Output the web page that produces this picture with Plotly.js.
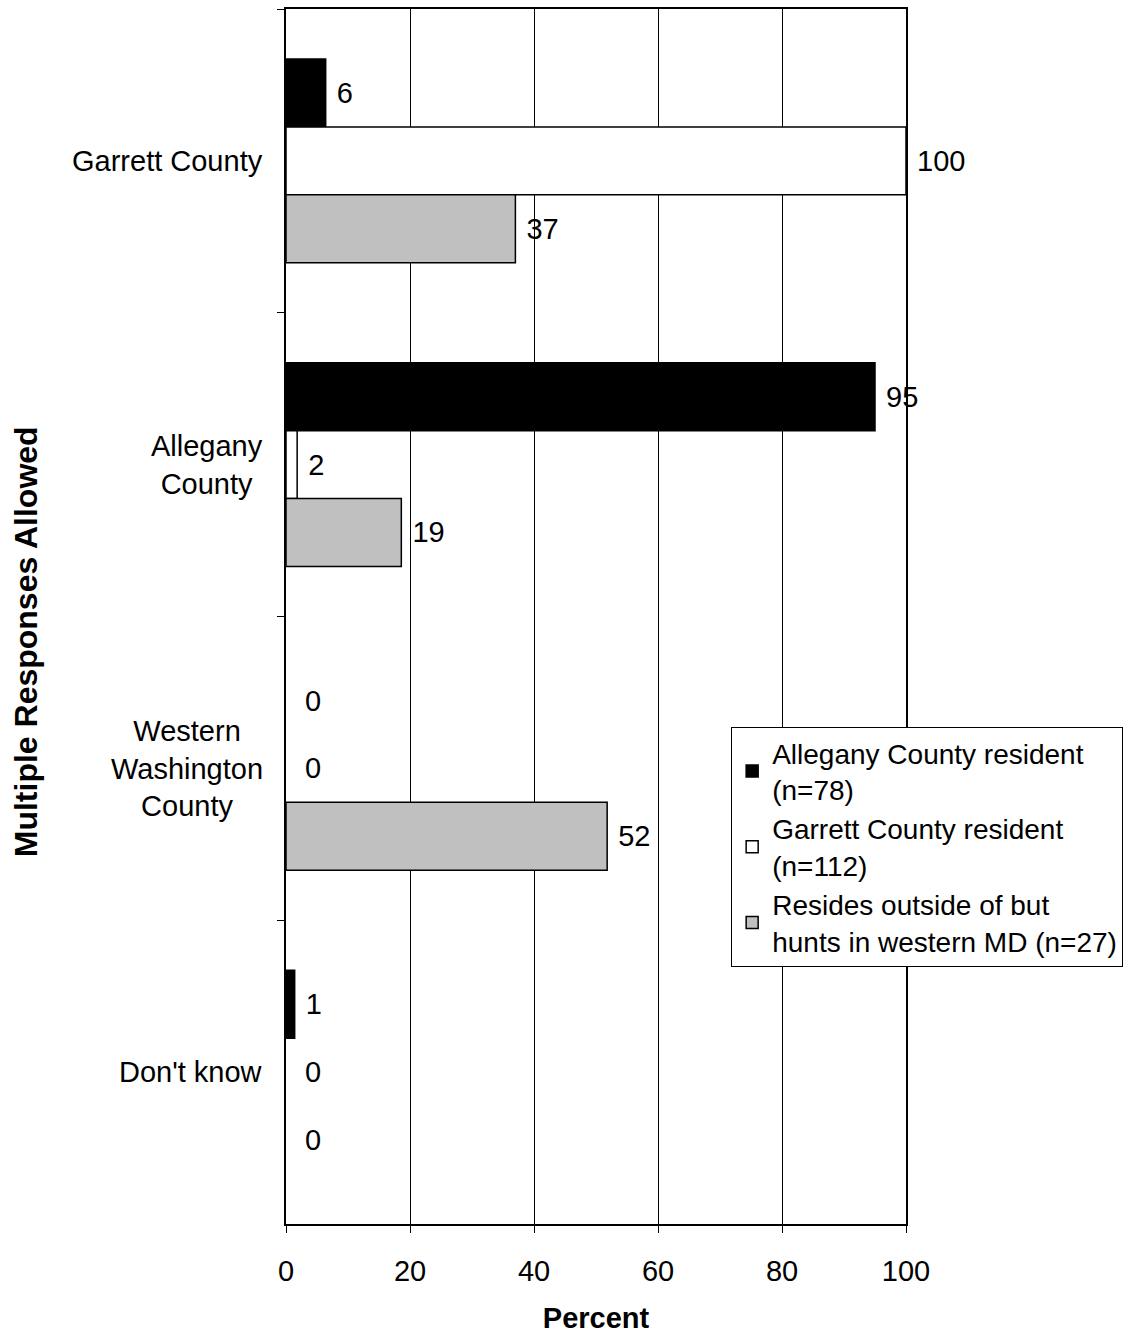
<!DOCTYPE html>
<html>
<head>
<meta charset="utf-8">
<script src="https://cdn.plot.ly/plotly-3.0.1.min.js"></script>
<style>html,body{margin:0;padding:0;background:#fff;}</style>
</head>
<body>
<div id="chart" style="width:1141px;height:1334px;"></div>
<script>
// Categories (top to bottom)
const categories = ["Garrett County", "Allegany County", "Western Washington County", "Don't know"];
const categoryLabels = ["Garrett County", "Allegany<br>County", "Western<br>Washington<br>County", "Don't know"];

// Series names
const seriesNames = [
  "Allegany County resident<br>(n=78)",
  "Garrett County resident<br>(n=112)",
  "Resides outside of but<br>hunts in western MD (n=27)"
];

// Series values (percent)
const alleganyResident = [6.4, 95, 0, 1.4];
const garrettResident = [100, 1.8, 0, 0];
const outsideResident = [37, 18.6, 51.8, 0];

const xTicks = [0, 20, 40, 60, 80, 100];

const FONT = "Arial, 'Liberation Sans', sans-serif";
const colors = ["#000000", "#ffffff", "#c0c0c0"];
const seriesValues = [alleganyResident, garrettResident, outsideResident];

const traces = seriesValues.map((vals, i) => ({
  type: "bar",
  orientation: "h",
  name: seriesNames[i],
  y: categories,
  x: vals,
  marker: {
    color: colors[i],
    line: { color: "#000", width: vals.map(v => v === 0 ? 0 : 1.5) }
  },
  texttemplate: vals.map(v => v === 0 ? "\u00a0\u00a0%{x:.0f}" : "\u00a0%{x:.0f}"),
  textposition: "outside",
  textfont: { family: FONT, size: 29, color: "#000" },
  cliponaxis: false,
  hoverinfo: "x+y"
}));

const annotations = categories.map((c, i) => ({
  xref: "paper", yref: "y",
  x: 0, y: c,
  xanchor: "right", yanchor: "middle",
  xshift: -21,
  align: "center",
  showarrow: false,
  text: categoryLabels[i],
  font: { family: FONT, size: 29, color: "#000" }
}));
annotations.push({
  xref: "paper", yref: "paper",
  x: -0.419, y: 0.479,
  xanchor: "center", yanchor: "middle",
  textangle: -90,
  showarrow: false,
  text: "<b>Multiple Responses Allowed</b>",
  font: { family: FONT, size: 32, color: "#000" }
});

const layout = {
  width: 1141, height: 1334,
  margin: { l: 286, r: 235, t: 9, b: 110 },
  paper_bgcolor: "#fff", plot_bgcolor: "#fff",
  font: { family: FONT, size: 28, color: "#000" },
  barmode: "group",
  bargap: 0.33,
  bargroupgap: 0,
  showlegend: true,
  legend: {
    x: 0.718, xanchor: "left",
    y: 0.409, yanchor: "top",
    bgcolor: "#fff", bordercolor: "#000", borderwidth: 1,
    traceorder: "normal",
    font: { family: FONT, size: 28, color: "#000" }
  },
  xaxis: {
    range: [0, 100],
    tickvals: xTicks,
    ticktext: xTicks.map(String),
    ticks: "outside", ticklen: 7, tickcolor: "#000", tickwidth: 1,
    showgrid: true, gridcolor: "#000", gridwidth: 1,
    showline: true, linecolor: "#000", linewidth: 2, mirror: true,
    zeroline: false,
    tickfont: { family: FONT, size: 29, color: "#000" },
    ticklabelstandoff: 13,
    title: { text: "<b>Percent</b>", font: { family: FONT, size: 29, color: "#000" }, standoff: 22 },
    automargin: false,
    fixedrange: true
  },
  yaxis: {
    type: "category",
    categoryorder: "array",
    categoryarray: categories,
    autorange: "reversed",
    showticklabels: false,
    ticks: "outside", tickson: "boundaries", ticklen: 7, tickcolor: "#000", tickwidth: 1,
    showgrid: false,
    showline: true, linecolor: "#000", linewidth: 2, mirror: true,
    zeroline: false,
    automargin: false,
    fixedrange: true
  },
  annotations: annotations
};

Plotly.newPlot("chart", traces, layout, { displayModeBar: false, staticPlot: true });
</script>
</body>
</html>
